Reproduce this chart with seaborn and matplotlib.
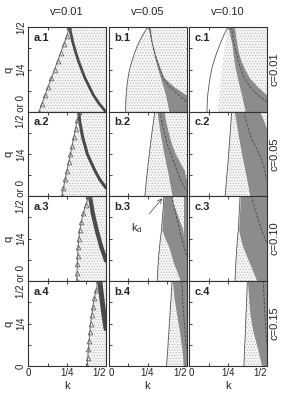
import matplotlib
matplotlib.use("Agg")
import matplotlib.pyplot as plt
import seaborn as sns

sns.set_style("ticks")
plt.rcParams["font.family"] = ["Liberation Sans", "DejaVu Sans"]
plt.rcParams["mathtext.fontset"] = "custom"
plt.rcParams["mathtext.rm"] = "Liberation Sans"
plt.rcParams["hatch.linewidth"] = 0.5

# common q grid used by all boundaries
Q = [0.0, 0.05, 0.10, 0.15, 0.20, 0.25, 0.30, 0.35, 0.40, 0.45, 0.50]

v_labels = ["v=0.01", "v=0.05", "v=0.10"]
c_labels = ["c=0.01", "c=0.05", "c=0.10", "c=0.15"]

# ---- column a : triangle curve (k on Q) + dark curve ----
a1_tri = [0.070, 0.090, 0.110, 0.130, 0.150, 0.170, 0.190, 0.210, 0.230, 0.250, 0.265]
a2_tri = [0.216, 0.227, 0.238, 0.249, 0.260, 0.272, 0.283, 0.294, 0.305, 0.316, 0.327]
a3_tri = [0.312, 0.314, 0.316, 0.318, 0.321, 0.325, 0.332, 0.342, 0.355, 0.370, 0.390]
a4_tri = [0.380, 0.383, 0.387, 0.391, 0.396, 0.401, 0.408, 0.416, 0.425, 0.437, 0.451]

a1_dark_q = [0.50, 0.40, 0.30, 0.20, 0.10, 0.05, 0.0]
a1_dark_k = [0.265, 0.290, 0.323, 0.365, 0.419, 0.455, 0.500]
a2_dark_q = [0.50, 0.45, 0.35, 0.25, 0.15, 0.10, 0.05]
a2_dark_k = [0.327, 0.330, 0.350, 0.380, 0.430, 0.460, 0.500]
a3_dark_q = [0.50, 0.40, 0.30, 0.20, 0.12]
a3_dark_k = [0.397, 0.415, 0.440, 0.470, 0.500]
a4_dark_q = [0.50, 0.40, 0.30, 0.22]
a4_dark_k = [0.460, 0.473, 0.487, 0.500]

# ---- columns b, c : boundaries on Q ----
# line = thin boundary line, st = stipple start, lo/hi = dark band, rs = right dark strip
b1_line = [0.110, 0.110, 0.113, 0.118, 0.125, 0.135, 0.150, 0.168, 0.190, 0.218, 0.250]
b1_st = b1_line
b1_lo = [0.387, 0.377, 0.365, 0.350, 0.333, 0.316, 0.301, 0.288, 0.276, 0.264, 0.254]
b1_hi = [0.500, 0.500, 0.500, 0.420, 0.360, 0.337, 0.318, 0.300, 0.286, 0.277, 0.270]
b1_rs = 0.5

c1_line = [0.115, 0.117, 0.120, 0.127, 0.135, 0.145, 0.160, 0.178, 0.200, 0.222, 0.250]
c1_st = [0.186, 0.190, 0.195, 0.200, 0.206, 0.212, 0.218, 0.225, 0.232, 0.240, 0.250]
c1_lo = [0.360, 0.348, 0.337, 0.323, 0.310, 0.298, 0.288, 0.281, 0.274, 0.262, 0.250]
c1_hi = [0.500, 0.500, 0.500, 0.440, 0.390, 0.360, 0.337, 0.320, 0.310, 0.302, 0.295]
c1_rs = 0.5

b2_line = [0.233, 0.238, 0.243, 0.249, 0.255, 0.262, 0.268, 0.275, 0.282, 0.290, 0.297]
b2_st = b2_line
b2_lo = [0.408, 0.398, 0.388, 0.378, 0.366, 0.355, 0.345, 0.335, 0.326, 0.318, 0.312]
b2_hi = [0.500, 0.500, 0.500, 0.490, 0.460, 0.432, 0.410, 0.394, 0.380, 0.368, 0.360]
b2_rs = 0.5

c2_line = [0.231, 0.236, 0.240, 0.245, 0.250, 0.254, 0.258, 0.262, 0.266, 0.270, 0.273]
c2_st = c2_line
c2_lo = [0.390, 0.380, 0.370, 0.359, 0.348, 0.337, 0.327, 0.317, 0.308, 0.299, 0.290]
c2_hi = [0.500, 0.500, 0.500, 0.500, 0.500, 0.500, 0.500, 0.500, 0.500, 0.480, 0.455]
c2_rs = 0.5

b3_line = [0.312, 0.315, 0.318, 0.322, 0.327, 0.333, 0.340, 0.344, 0.348, 0.352, 0.355]
b3_st = b3_line
b3_lo = [0.460, 0.440, 0.419, 0.402, 0.387, 0.362, 0.342, 0.345, 0.349, 0.352, 0.356]
b3_hi = [0.485, 0.485, 0.485, 0.485, 0.485, 0.485, 0.480, 0.460, 0.440, 0.420, 0.410]
b3_rs = 0.485

c3_line = [0.295, 0.297, 0.300, 0.303, 0.307, 0.311, 0.316, 0.319, 0.322, 0.325, 0.327]
c3_st = c3_line
c3_lo = [0.434, 0.412, 0.390, 0.367, 0.345, 0.330, 0.318, 0.321, 0.324, 0.327, 0.329]
c3_hi = [0.500] * 11
c3_rs = 0.5

b4_line = [0.372, 0.376, 0.380, 0.383, 0.387, 0.390, 0.394, 0.397, 0.401, 0.404, 0.408]
b4_st = b4_line
b4_lo = [0.478, 0.475, 0.470, 0.462, 0.455, 0.446, 0.437, 0.428, 0.420, 0.414, 0.410]
b4_hi = [0.500] * 11
b4_rs = 0.5

c4_line = [0.352, 0.354, 0.356, 0.359, 0.361, 0.363, 0.365, 0.368, 0.370, 0.372, 0.374]
c4_st = c4_line
c4_lo = [0.466, 0.452, 0.440, 0.425, 0.410, 0.400, 0.391, 0.386, 0.382, 0.378, 0.375]
c4_hi = [0.500] * 11
c4_rs = 0.5

# dashed curves
b1_dash_q = [0.50, 0.40, 0.30, 0.20, 0.15, 0.10, 0.06]
b1_dash_k = [0.262, 0.280, 0.310, 0.350, 0.390, 0.450, 0.500]
c1_dash_q = [0.50, 0.40, 0.30, 0.20, 0.15, 0.10, 0.06]
c1_dash_k = [0.272, 0.290, 0.315, 0.355, 0.390, 0.440, 0.500]
b2_dash_q = [0.50, 0.40, 0.30, 0.20, 0.10, 0.03]
b2_dash_k = [0.330, 0.350, 0.380, 0.420, 0.460, 0.500]
c2_dash_q = [0.50, 0.45, 0.40, 0.34, 0.29, 0.24, 0.16, 0.10]
c2_dash_k = [0.350, 0.365, 0.380, 0.400, 0.430, 0.455, 0.485, 0.495]
b3_dash_q = [0.50, 0.40, 0.30, 0.20, 0.15]
b3_dash_k = [0.405, 0.430, 0.455, 0.485, 0.500]
c3_dash_q = [0.50, 0.40, 0.30, 0.22]
c3_dash_k = [0.400, 0.430, 0.465, 0.500]
b4_dash_q = [0.50, 0.40, 0.30, 0.20, 0.10]
b4_dash_k = [0.470, 0.475, 0.482, 0.490, 0.500]
c4_dash_q = [0.50, 0.40, 0.30, 0.20, 0.12]
c4_dash_k = [0.476, 0.481, 0.487, 0.493, 0.500]

col_a = [(a1_tri, a1_dark_q, a1_dark_k), (a2_tri, a2_dark_q, a2_dark_k),
         (a3_tri, a3_dark_q, a3_dark_k), (a4_tri, a4_dark_q, a4_dark_k)]
col_b = [(b1_line, b1_st, b1_lo, b1_hi, b1_rs, b1_dash_q, b1_dash_k),
         (b2_line, b2_st, b2_lo, b2_hi, b2_rs, b2_dash_q, b2_dash_k),
         (b3_line, b3_st, b3_lo, b3_hi, b3_rs, b3_dash_q, b3_dash_k),
         (b4_line, b4_st, b4_lo, b4_hi, b4_rs, b4_dash_q, b4_dash_k)]
col_c = [(c1_line, c1_st, c1_lo, c1_hi, c1_rs, c1_dash_q, c1_dash_k),
         (c2_line, c2_st, c2_lo, c2_hi, c2_rs, c2_dash_q, c2_dash_k),
         (c3_line, c3_st, c3_lo, c3_hi, c3_rs, c3_dash_q, c3_dash_k),
         (c4_line, c4_st, c4_lo, c4_hi, c4_rs, c4_dash_q, c4_dash_k)]

STIP = dict(facecolor="#f6f6f6", edgecolor="#b8b8b8", hatch="......", linewidth=0)
DARK = "#8c8c8c"
W, H = 288, 399
col_left = [28, 108.5, 189]
row_top = [27, 111.5, 196, 281]
pw, ph = 78, 85
dark_lw = [2.0, 2.2, 3.0, 3.6]

fig = plt.figure(figsize=(W / 100, H / 100), dpi=100)

for r in range(4):
    for c in range(3):
        ax = fig.add_axes([col_left[c] / W, 1 - (row_top[r] + ph) / H, pw / W, ph / H])
        ax.set_xlim(0, 0.5)
        ax.set_ylim(0, 0.5)
        ax.set_facecolor("white")
        if c == 0:
            tri, dq, dk = col_a[r]
            ax.fill_betweenx(Q, tri, [0.5] * len(Q), **STIP)
            sns.lineplot(x=dk, y=dq, orient="y", sort=False, estimator=None, ax=ax,
                         color="#4a4a4a", lw=dark_lw[r])
            sns.lineplot(x=tri, y=Q, orient="y", sort=False, estimator=None, ax=ax,
                         color="#6a6a6a", lw=0.7, marker="^", markersize=3.4,
                         markerfacecolor="none", markeredgecolor="#6a6a6a",
                         markeredgewidth=0.6)
        else:
            line, st, lo, hi, rs, dq, dk = (col_b if c == 1 else col_c)[r]
            ax.fill_betweenx(Q, st, lo, **STIP)
            ax.fill_betweenx(Q, lo, hi, facecolor=DARK, linewidth=0)
            if min(hi) < rs:
                ax.fill_betweenx(Q, hi, [rs] * len(Q), **STIP)
            if rs < 0.5:
                ax.fill_betweenx(Q, [rs] * len(Q), [0.5] * len(Q), facecolor=DARK, linewidth=0)
            sns.lineplot(x=line, y=Q, orient="y", sort=False, estimator=None, ax=ax,
                         color="#555555", lw=0.6)
            sns.lineplot(x=dk, y=dq, orient="y", sort=False, estimator=None, ax=ax,
                         color="#444444", lw=0.6, linestyle=(0, (3, 2)))

        ax.set_xticks([0, 0.125, 0.25, 0.375, 0.5])
        ax.set_yticks([0, 0.125, 0.25, 0.375, 0.5])
        ax.tick_params(direction="in", length=2.5, width=0.6, top=True, right=True,
                       labelsize=7, pad=1.5, colors="#222222")
        if r == 3:
            ax.set_xticklabels(["0", "", "1/4", "", "1/2"])
            xl = ax.get_xticklabels()
            xl[-1].set_ha("right")
            if c > 0:
                xl[0].set_ha("left")
            ax.set_xlabel("k", fontsize=8, labelpad=2)
        else:
            ax.set_xticklabels([])
        if c == 0:
            bottom = "0" if r == 3 else "1/2 or 0"
            top = "1/2" if r == 0 else ""
            ax.set_yticklabels([bottom, "", "1/4", "", top], rotation=90, va="center")
            ax.set_ylabel("q", fontsize=8, labelpad=2)
        else:
            ax.set_yticklabels([])
        for s in ax.spines.values():
            s.set_linewidth(0.8)
            s.set_color("#333333")
        ax.text(0.07, 0.93, "abc"[c] + "." + str(r + 1), transform=ax.transAxes,
                fontsize=8, fontweight="bold", va="top", ha="left")
        if c == 1 and r == 2:
            ax.annotate("k$_\\mathrm{d}$", xy=(0.344, 0.486), xytext=(0.184, 0.31),
                        fontsize=8, ha="center", va="center",
                        arrowprops=dict(arrowstyle="->", lw=0.5, color="#444444",
                                        shrinkA=4, shrinkB=0))

for c in range(3):
    fig.text((col_left[c] + pw / 2) / W, 1 - 12 / H, v_labels[c], fontsize=8,
             ha="center", va="center")
for r in range(4):
    fig.text(274 / W, 1 - (row_top[r] + ph / 2) / H, c_labels[r], fontsize=8,
             rotation=90, ha="center", va="center")

fig.savefig("out.png", dpi=100)
